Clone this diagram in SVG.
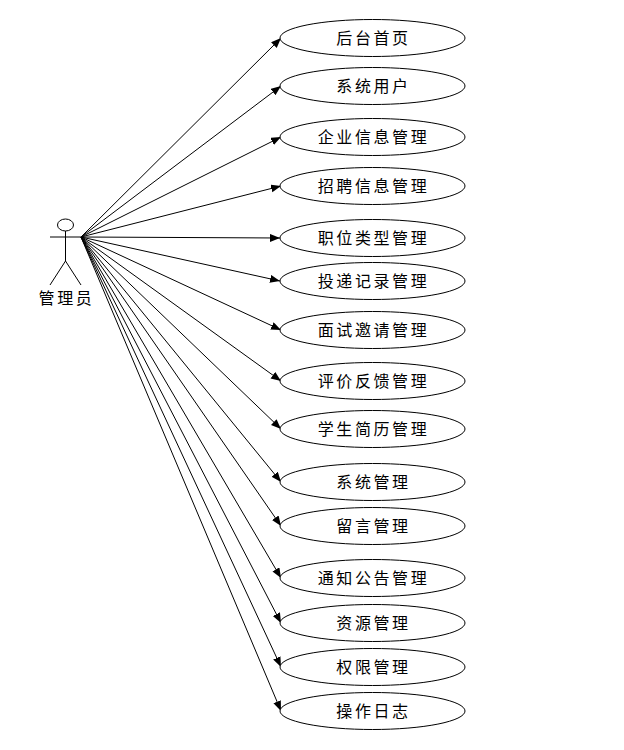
<svg xmlns="http://www.w3.org/2000/svg" width="624" height="750" viewBox="0 0 624 750">
<style>
text{font-family:"Noto Sans CJK SC","Liberation Sans",sans-serif;font-size:16px;fill:#000;text-anchor:middle;letter-spacing:2.6px}
.u{fill:#fff;stroke:#000;stroke-width:1}
.a{fill:none;stroke:#000;stroke-width:1}
.c line{stroke:#000;stroke-width:1;marker-end:url(#h)}
</style>
<defs><marker id="h" markerUnits="userSpaceOnUse" markerWidth="12" markerHeight="10" refX="10" refY="4" orient="auto"><path d="M0 0L10 4L0 8z" fill="#000"/></marker></defs>
<rect width="624" height="750" fill="#fff"/>
<g id="actor">
<ellipse class="a" cx="65.5" cy="225" rx="8" ry="6"/>
<path class="a" d="M50 237H81M65.5 231V261L50 285M65.5 261L81 285"/>
<text x="66.5" y="304">管理员</text>
</g>
<g class="c" id="connectors">
<line x1="81" y1="237" x2="281" y2="38"/>
<line x1="81" y1="237" x2="281" y2="86"/>
<line x1="81" y1="237" x2="281" y2="137"/>
<line x1="81" y1="237" x2="281" y2="186"/>
<line x1="81" y1="237" x2="280" y2="238"/>
<line x1="81" y1="237" x2="280" y2="281"/>
<line x1="81" y1="237" x2="281" y2="330"/>
<line x1="81" y1="237" x2="281" y2="381"/>
<line x1="81" y1="237" x2="281" y2="429"/>
<line x1="81" y1="237" x2="281" y2="482"/>
<line x1="81" y1="237" x2="281" y2="526"/>
<line x1="81" y1="237" x2="281" y2="578"/>
<line x1="81" y1="237" x2="281" y2="623"/>
<line x1="81" y1="237" x2="281" y2="667"/>
<line x1="81" y1="237" x2="281" y2="711"/>
</g>
<g id="n1"><ellipse class="u" cx="372.5" cy="38" rx="92.5" ry="18.5"/><text x="373.5" y="44">后台首页</text></g>
<g id="n2"><ellipse class="u" cx="372.5" cy="86" rx="92.5" ry="18.5"/><text x="373.5" y="92">系统用户</text></g>
<g id="n3"><ellipse class="u" cx="372.5" cy="137" rx="92.5" ry="18.5"/><text x="373.5" y="143">企业信息管理</text></g>
<g id="n4"><ellipse class="u" cx="372.5" cy="186" rx="92.5" ry="18.5"/><text x="373.5" y="192">招聘信息管理</text></g>
<g id="n5"><ellipse class="u" cx="372.5" cy="238" rx="92.5" ry="18.5"/><text x="373.5" y="244">职位类型管理</text></g>
<g id="n6"><ellipse class="u" cx="372.5" cy="281" rx="92.5" ry="18.5"/><text x="373.5" y="287">投递记录管理</text></g>
<g id="n7"><ellipse class="u" cx="372.5" cy="330" rx="92.5" ry="18.5"/><text x="373.5" y="336">面试邀请管理</text></g>
<g id="n8"><ellipse class="u" cx="372.5" cy="381" rx="92.5" ry="18.5"/><text x="373.5" y="387">评价反馈管理</text></g>
<g id="n9"><ellipse class="u" cx="372.5" cy="429" rx="92.5" ry="18.5"/><text x="373.5" y="435">学生简历管理</text></g>
<g id="n10"><ellipse class="u" cx="372.5" cy="482" rx="92.5" ry="18.5"/><text x="373.5" y="488">系统管理</text></g>
<g id="n11"><ellipse class="u" cx="372.5" cy="526" rx="92.5" ry="18.5"/><text x="373.5" y="532">留言管理</text></g>
<g id="n12"><ellipse class="u" cx="372.5" cy="578" rx="92.5" ry="18.5"/><text x="373.5" y="584">通知公告管理</text></g>
<g id="n13"><ellipse class="u" cx="372.5" cy="623" rx="92.5" ry="18.5"/><text x="373.5" y="629">资源管理</text></g>
<g id="n14"><ellipse class="u" cx="372.5" cy="667" rx="92.5" ry="18.5"/><text x="373.5" y="673">权限管理</text></g>
<g id="n15"><ellipse class="u" cx="372.5" cy="711" rx="92.5" ry="18.5"/><text x="373.5" y="717">操作日志</text></g>
</svg>
